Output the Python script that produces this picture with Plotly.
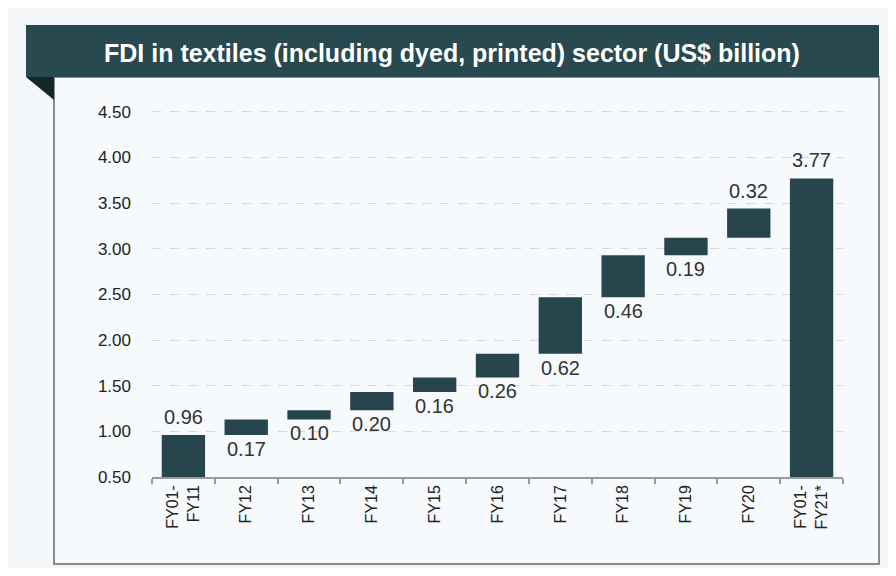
import plotly.graph_objects as go

categories = ["FY01-<br>FY11", "FY12", "FY13", "FY14", "FY15", "FY16",
              "FY17", "FY18", "FY19", "FY20", "FY01-<br>FY21*"]
values = [0.96, 0.17, 0.10, 0.20, 0.16, 0.26, 0.62, 0.46, 0.19, 0.32, 3.77]
measure = ["absolute"] + ["relative"] * 9 + ["absolute"]
label_side = ["above"] + ["below"] * 8 + ["above", "above"]
title_text = "FDI in textiles (including dyed, printed) sector (US$ billion)"
y_ticks = [0.5, 1.0, 1.5, 2.0, 2.5, 3.0, 3.5, 4.0, 4.5]

# compute waterfall bases from the data
bases, tops = [], []
run = 0.0
for v, m in zip(values, measure):
    if m == "absolute":
        b = 0.0
        run = v
    else:
        b = run
        run = run + v
    bases.append(b)
    tops.append(b + v)

BAR = "#27454c"
FONT = "Liberation Sans, Arial, sans-serif"

fig = go.Figure()
fig.add_trace(go.Bar(x=categories, y=values, base=bases, marker_color=BAR,
                     marker_line_width=0, width=0.69, hoverinfo="skip"))

# page is shown with an 8px body margin: work in window pixels, shift by OFF
OFF = 8
W, H = 896 - 2 * OFF, 576 - 2 * OFF
L, R, T, B = 152 - OFF, 843 - OFF, 110 - OFF, 477 - OFF
def px(x):
    return (x - OFF - L) / (R - L)
def py(y):
    return (B - (y - OFF)) / (B - T)

annotations = [dict(text=f"<b>{title_text}</b>", xref="paper", yref="paper",
                    x=px(452), y=py(53), showarrow=False,
                    xanchor="center", yanchor="middle",
                    font=dict(size=25, color="white", family=FONT))]
for c, v, b, t, s in zip(categories, values, bases, tops, label_side):
    above = s == "above"
    annotations.append(dict(
        x=c, y=t if above else b, xref="x", yref="y", text=f"{v:.2f}",
        showarrow=False, xanchor="center",
        yanchor="bottom" if above else "top",
        yshift=5 if above else -1,
        font=dict(size=20, color="#333333", family=FONT)))

shapes = [
    dict(type="rect", xref="paper", yref="paper", layer="below",
         x0=px(54), x1=px(879), y0=py(564), y1=py(77),
         line=dict(color="#8c8c8c", width=2), fillcolor="#f7fafc"),
    dict(type="rect", xref="paper", yref="paper", layer="above",
         x0=px(26), x1=px(879), y0=py(77), y1=py(25),
         line=dict(width=0), fillcolor="#284950"),
    dict(type="path", xref="paper", yref="paper", layer="above",
         path=f"M {px(26)},{py(77)} L {px(54)},{py(77)} L {px(54)},{py(100)} Z",
         line=dict(width=0), fillcolor="#13262a"),
]

fig.update_layout(
    width=W, height=H,
    margin=dict(l=L, r=W - R, t=T, b=H - B),
    paper_bgcolor="#f4f7f9", plot_bgcolor="rgba(0,0,0,0)",
    showlegend=False, shapes=shapes, annotations=annotations,
    font=dict(family=FONT, color="#262626"),
    xaxis=dict(type="category", tickangle=-90, showgrid=False,
               showline=True, linecolor="#9a9a9a", linewidth=1.5,
               ticks="outside", tickson="boundaries", ticklen=5,
               tickcolor="#9a9a9a", tickwidth=1.5,
               tickfont=dict(size=16, color="#222222", family=FONT)),
    yaxis=dict(range=[0.5, 4.52], tickvals=y_ticks,
               ticktext=[f"{t:.2f}" for t in y_ticks],
               showgrid=True, gridcolor="#d5d9dc", griddash="dash", gridwidth=1,
               zeroline=False, showline=False, ticks="",
               ticklabelstandoff=20,
               tickfont=dict(size=17, color="#222222", family=FONT)),
)

fig.write_html("out.html")
